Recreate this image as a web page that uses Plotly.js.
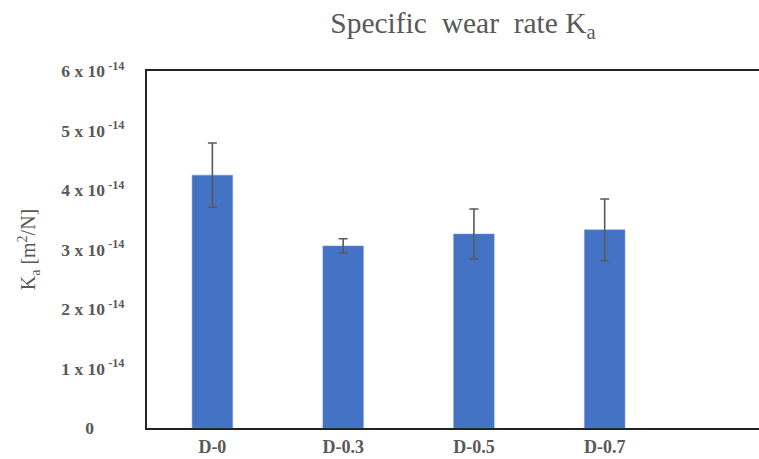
<!DOCTYPE html>
<html>
<head>
<meta charset="utf-8">
<script src="https://cdn.plot.ly/plotly-3.0.1.min.js"></script>
<style>html,body{margin:0;padding:0;background:#fff;}#chart{width:759px;height:459px;}</style>
</head>
<body>
<div id="chart"></div>
<script>
// Data (specific wear rate, m^2/N)
const categories = ["D-0", "D-0.3", "D-0.5", "D-0.7"];
const wearRate = [4.25e-14, 3.06e-14, 3.26e-14, 3.33e-14];
const wearErr = [0.54e-14, 0.12e-14, 0.42e-14, 0.52e-14];
const yTickVals = [0, 1e-14, 2e-14, 3e-14, 4e-14, 5e-14, 6e-14];
const yTickText = ["0\u00a0\u00a0\u00a0\u00a0\u00a0\u00a0\u00a0",
  "1 x 10<sup>\u00a0-14</sup>", "2 x 10<sup>\u00a0-14</sup>", "3 x 10<sup>\u00a0-14</sup>",
  "4 x 10<sup>\u00a0-14</sup>", "5 x 10<sup>\u00a0-14</sup>", "6 x 10<sup>\u00a0-14</sup>"];

const trace = {
  type: "bar",
  x: categories,
  y: wearRate,
  width: 0.31,
  marker: {color: "#4472C4", line: {color: "#6f93d6", width: 0.5}},
  error_y: {type: "data", array: wearErr, visible: true, color: "#595959", thickness: 1.6, width: 4.5},
  hoverinfo: "none"
};

const serif = "Liberation Serif, Times New Roman, serif";
const layout = {
  width: 759, height: 459,
  margin: {l: 147, r: 0, t: 71, b: 31, pad: 0},
  paper_bgcolor: "#fff", plot_bgcolor: "#fff",
  showlegend: false,
  title: {
    text: "Specific\u00a0 wear\u00a0 rate K<sub>a</sub>",
    font: {family: serif, size: 29.5, color: "#595959"},
    x: 463/759, xref: "container", xanchor: "center",
    y: 0.95, yref: "container", yanchor: "middle"
  },
  xaxis: {
    type: "category",
    range: [-0.5, 4.18],
    showline: true, linecolor: "#222", linewidth: 2, mirror: true,
    showgrid: false, zeroline: false,
    ticks: "outside", ticklen: 1, tickcolor: "rgba(0,0,0,0)",
    tickfont: {family: serif, size: 18, color: "#595959", weight: "bold"},
    fixedrange: true
  },
  yaxis: {
    range: [0, 6e-14],
    tickmode: "array", tickvals: yTickVals, ticktext: yTickText,
    showline: true, linecolor: "#222", linewidth: 2, mirror: false,
    showgrid: false, zeroline: false,
    ticks: "outside", ticklen: 17, tickcolor: "rgba(0,0,0,0)",
    tickfont: {family: serif, size: 17.5, color: "#595959", weight: "bold"},
    title: {text: "K<sub>a</sub> [m<sup>2</sup>/N]", font: {family: serif, size: 20, color: "#595959"}, standoff: 20},
    fixedrange: true
  }
};

Plotly.newPlot("chart", [trace], layout, {displayModeBar: false, staticPlot: true});
</script>
</body>
</html>
